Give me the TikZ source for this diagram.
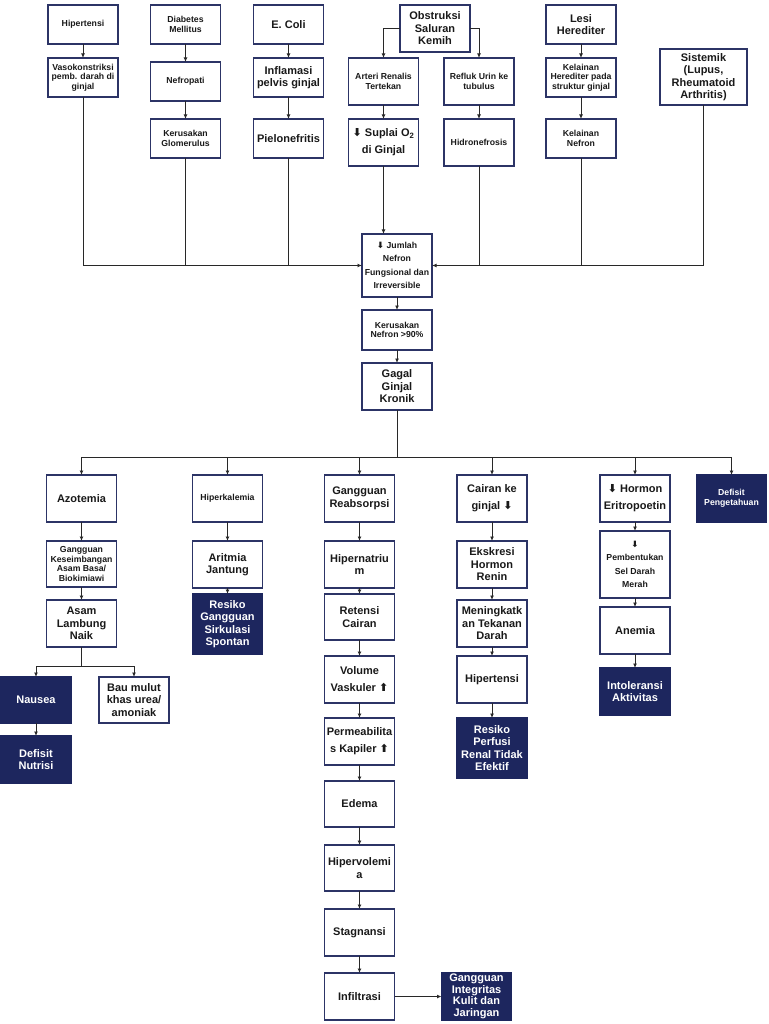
\documentclass[tikz,border=0pt]{standalone}
\usepackage{fontspec}
\setmainfont{Liberation Sans}
\newfontfamily\symfont{DejaVu Sans}
\usetikzlibrary{positioning}
\usetikzlibrary{arrows.meta}
\definecolor{boxline}{RGB}{44,52,102}
\definecolor{navy}{RGB}{29,38,94}
\definecolor{wire}{RGB}{40,40,40}
\newcommand{\arrdown}{{\symfont\bfseries ⬇}}
\newcommand{\arrup}{{\symfont\bfseries ⬆}}

\begin{document}
\begin{tikzpicture}[->,>={Latex[length=4.5pt,width=4pt]},x=1pt,y=-1pt,
                    color=wire,line width=0.9pt]
	\tikzstyle{box}=[rectangle,draw=boxline,line width=1.2pt,fill=white,text=black!90,
	                 align=center,inner sep=1pt,outer sep=0pt,minimum width=70pt,minimum height=47pt,
	                 font=\bfseries\fontsize{11}{12.5}\selectfont]
	\tikzstyle{small}=[font=\bfseries\fontsize{8.7}{9.6}\selectfont]
	\tikzstyle{smallwide}=[font=\bfseries\fontsize{8.7}{13.5}\selectfont]
	\tikzstyle{wide}=[font=\bfseries\fontsize{11}{17}\selectfont]
	\tikzstyle{tight}=[font=\bfseries\fontsize{11}{11.6}\selectfont,inner sep=0pt]
	\tikzstyle{flat}=[minimum height=39pt]
	\tikzstyle{dark}=[fill=navy,draw=navy,text=white]

	\useasboundingbox (0,0) rectangle (768,1024);

	% penyebab
	\node[box,small,flat]      (hip)    at (83,24.5)          {Hipertensi};
	\node[box,small,flat]      (vaso)   [below=14pt of hip]   {Vasokonstriksi\\pemb. darah di\\ginjal};
	\node[box,small,flat]      (dm)     at (185.5,24.5)       {Diabetes\\Mellitus};
	\node[box,small,flat]      (nefro)  [below=18pt of dm]    {Nefropati};
	\node[box,small,flat]      (glom)   [below=18pt of nefro] {Kerusakan\\Glomerulus};
	\node[box,flat]            (ecoli)  at (288.5,24.5)       {E. Coli};
	\node[box,flat]            (inflam) [below=14pt of ecoli] {Inflamasi\\pelvis ginjal};
	\node[box,flat]            (pielo)  [below=22pt of inflam] {Pielonefritis};
	\node[box]                 (obs)    at (435,28.5)         {Obstruksi\\Saluran\\Kemih};
	\node[box,small]           (arteri) at (383.5,81.5)       {Arteri Renalis\\Tertekan};
	\node[box,wide]            (suplai) [below=14pt of arteri] {\arrdown{} Suplai O\textsubscript{2}\\di Ginjal};
	\node[box,small]           (refluk) at (479,81.5)         {Refluk Urin ke\\tubulus};
	\node[box,small]           (hidro)  [below=14pt of refluk] {Hidronefrosis};
	\node[box,flat]            (lesi)   at (581,24.5)         {Lesi\\Herediter};
	\node[box,small,flat]      (kelher) [below=14pt of lesi]  {Kelainan\\Herediter pada\\struktur ginjal};
	\node[box,small,flat]      (kelnef) [below=22pt of kelher] {Kelainan\\Nefron};
	\node[box,minimum width=87pt,minimum height=56pt] (sistem) at (703.5,77) {Sistemik\\(Lupus,\\Rheumatoid\\Arthritis)};

	% pusat
	\node[box,smallwide,minimum height=63pt] (jumlah) at (397,265.5) {\arrdown{} Jumlah\\Nefron\\Fungsional dan\\Irreversible};
	\node[box,small,minimum height=40pt]     (kernef) [below=13pt of jumlah] {Kerusakan\\Nefron >90\%};
	\node[box]                 (gagal)  [below=13pt of kernef] {Gagal\\Ginjal\\Kronik};
	\coordinate (bus) at (397,457);

	% akibat
	\node[box]                 (azot)   at (81.5,498.5)       {Azotemia};
	\node[box,small,minimum height=46pt] (gk) [below=19pt of azot] {Gangguan\\Keseimbangan\\Asam Basa/\\Biokimiawi};
	\node[box]                 (asam)   [below=13pt of gk]    {Asam\\Lambung\\Naik};
	\coordinate (split) at (81.5,666);
	\node[box,dark,minimum height=46pt] (nausea) at (36,700)  {Nausea};
	\node[box,minimum height=46pt]      (bau)    at (134,700) {Bau mulut\\khas urea/\\amoniak};
	\node[box,dark]            (defnut) [below=13pt of nausea] {Defisit\\Nutrisi};

	\node[box,small]           (hiperk) at (227.5,498.5)      {Hiperkalemia};
	\node[box]                 (aritmia) [below=19pt of hiperk] {Aritmia\\Jantung};
	\node[box,dark,minimum height=60pt] (resgs) [below=6pt of aritmia] {Resiko\\Gangguan\\Sirkulasi\\Spontan};

	\node[box]                 (reabs)  at (359.5,498.5)      {Gangguan\\Reabsorpsi};
	\node[box]                 (hipernat) [below=19pt of reabs] {Hipernatriu\\m};
	\node[box,minimum height=46pt] (retensi) [below=6pt of hipernat] {Retensi\\Cairan};
	\node[box,wide]            (volume) [below=16pt of retensi] {Volume\\Vaskuler \arrup};
	\node[box,wide]            (permeab) [below=15pt of volume] {Permeabilita\\s Kapiler \arrup};
	\node[box,minimum height=46pt] (edema) [below=16pt of permeab] {Edema};
	\node[box,minimum height=46pt] (hipervol) [below=18pt of edema] {Hipervolemi\\a};
	\node[box]                 (stag)   [below=18pt of hipervol] {Stagnansi};
	\node[box]                 (infil)  [below=17pt of stag]  {Infiltrasi};
	\node[box,dark,tight]      (gik)    [right=47pt of infil] {Gangguan\\Integritas\\Kulit dan\\Jaringan};

	\node[box,wide]            (cairan) at (492,498.5)        {Cairan ke\\ginjal \arrdown};
	\node[box]                 (ekskresi) [below=19pt of cairan] {Ekskresi\\Hormon\\Renin};
	\node[box]                 (mening) [below=12pt of ekskresi] {Meningkatk\\an Tekanan\\Darah};
	\node[box]                 (hiper2) [below=9pt of mening] {Hipertensi};
	\node[box,dark,minimum height=60pt] (resper) [below=15pt of hiper2] {Resiko\\Perfusi\\Renal Tidak\\Efektif};

	\node[box,wide]            (hormon) at (635,498.5)        {\arrdown{} Hormon\\Eritropoetin};
	\node[box,smallwide,minimum height=67pt] (pembent) [below=9pt of hormon] {\arrdown\\Pembentukan\\Sel Darah\\Merah};
	\node[box]                 (anemia) [below=9pt of pembent] {Anemia};
	\node[box,dark]            (intol)  [below=14pt of anemia] {Intoleransi\\Aktivitas};

	\node[box,small,dark]      (defpeng) at (731.5,498.5)     {Defisit\\Pengetahuan};

	% panah
	\path (hip) edge (vaso)
	      (dm) edge (nefro)
	      (nefro) edge (glom)
	      (ecoli) edge (inflam)
	      (inflam) edge (pielo)
	      (arteri) edge (suplai)
	      (refluk) edge (hidro)
	      (lesi) edge (kelher)
	      (kelher) edge (kelnef)
	      (jumlah) edge (kernef)
	      (kernef) edge (gagal);
	\draw (obs) -| (arteri);
	\draw (obs) -| (refluk);
	\draw (suplai) -- (suplai |- jumlah.north);
	\draw (vaso) |- (jumlah.west);
	\draw[-] (glom) -- (glom |- jumlah.west);
	\draw[-] (pielo) -- (pielo |- jumlah.west);
	\draw (sistem) |- (jumlah.east);
	\draw[-] (hidro) -- (hidro |- jumlah.east);
	\draw[-] (kelnef) -- (kelnef |- jumlah.east);

	\draw[-] (gagal) -- (bus);
	\foreach \n in {azot,hiperk,reabs,cairan,hormon,defpeng}
		\draw (bus) -| (\n);
	\draw[-] (asam) -- (split);
	\draw (split) -| (nausea);
	\draw (split) -| (bau);
	\foreach \a/\b in {azot/gk,gk/asam,nausea/defnut,hiperk/aritmia,aritmia/resgs,
	                   reabs/hipernat,hipernat/retensi,retensi/volume,volume/permeab,
	                   permeab/edema,edema/hipervol,hipervol/stag,stag/infil,infil/gik,
	                   cairan/ekskresi,ekskresi/mening,mening/hiper2,hiper2/resper,
	                   hormon/pembent,pembent/anemia,anemia/intol}
		\draw (\a) -- (\b);
\end{tikzpicture}
\end{document}
